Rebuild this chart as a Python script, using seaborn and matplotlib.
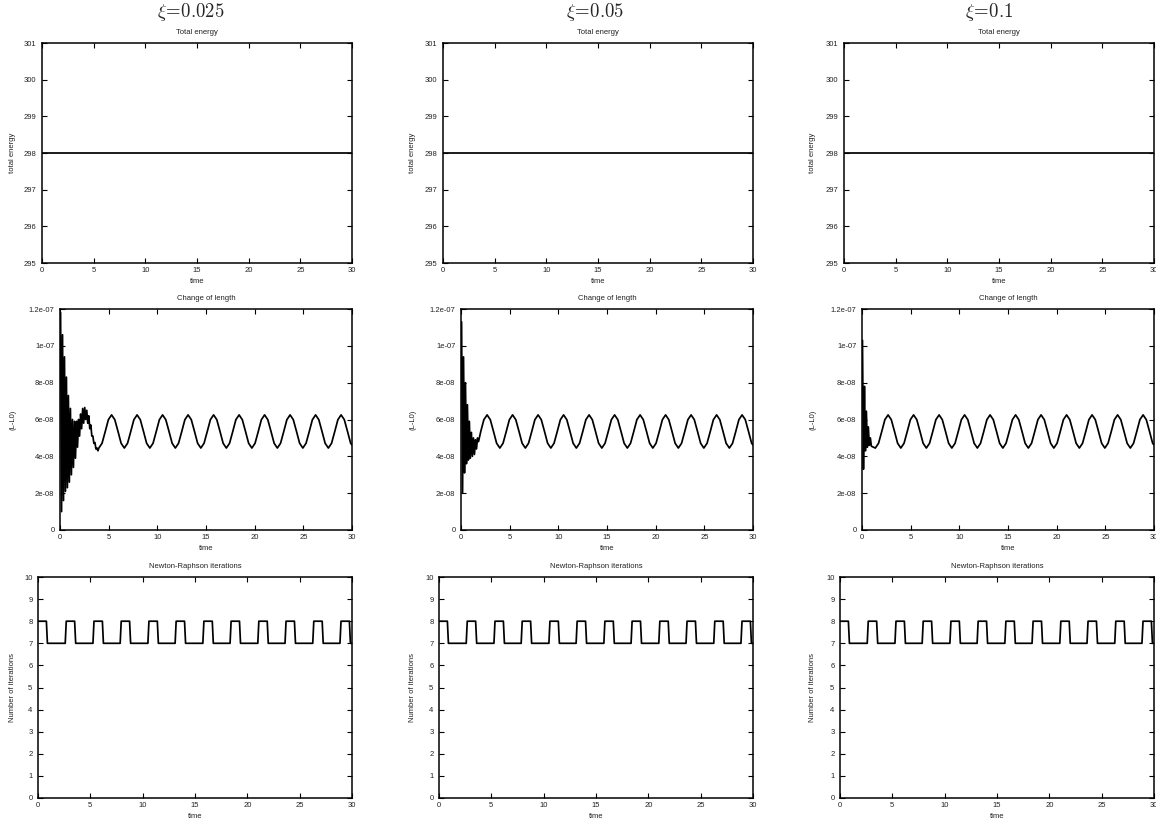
import numpy as np
import pandas as pd
import matplotlib
matplotlib.use("Agg")
import matplotlib.pyplot as plt
import seaborn as sns

# ---------------- data ----------------
xi_titles = [r"$\xi\!=\!0.025$", r"$\xi\!=\!0.05$", r"$\xi\!=\!0.1$"]

# total energy (constant)
energy_t = [0.0, 30.0]
energy_v = [298.0, 298.0]

# change of length: steady oscillation (units of 1e-8), shared by all columns
steady_t = [0.06, 0.39, 0.72, 1.04, 1.37, 1.70, 2.03, 2.35,
            2.68, 3.01, 3.34, 3.66, 3.99, 4.32, 4.65, 4.97,
            5.30, 5.63, 5.96, 6.28, 6.61, 6.94, 7.27, 7.59,
            7.92, 8.25, 8.58, 8.90, 9.23, 9.56, 9.89, 10.21,
            10.54, 10.87, 11.20, 11.52, 11.85, 12.18, 12.51, 12.83,
            13.16, 13.49, 13.82, 14.14, 14.47, 14.80, 15.13, 15.45,
            15.78, 16.11, 16.44, 16.76, 17.09, 17.42, 17.75, 18.07,
            18.40, 18.73, 19.06, 19.38, 19.71, 20.04, 20.37, 20.69,
            21.02, 21.35, 21.68, 22.00, 22.33, 22.66, 22.99, 23.31,
            23.64, 23.97, 24.30, 24.62, 24.95, 25.28, 25.61, 25.93,
            26.26, 26.59, 26.92, 27.24, 27.57, 27.90, 28.23, 28.55,
            28.88, 29.21, 29.54, 29.86, 30.00]
steady_v = [6.25, 5.99, 5.35, 4.71, 4.45, 4.71, 5.35, 5.99,
            6.25, 5.99, 5.35, 4.71, 4.45, 4.71, 5.35, 5.99,
            6.25, 5.99, 5.35, 4.71, 4.45, 4.71, 5.35, 5.99,
            6.25, 5.99, 5.35, 4.71, 4.45, 4.71, 5.35, 5.99,
            6.25, 5.99, 5.35, 4.71, 4.45, 4.71, 5.35, 5.99,
            6.25, 5.99, 5.35, 4.71, 4.45, 4.71, 5.35, 5.99,
            6.25, 5.99, 5.35, 4.71, 4.45, 4.71, 5.35, 5.99,
            6.25, 5.99, 5.35, 4.71, 4.45, 4.71, 5.35, 5.99,
            6.25, 5.99, 5.35, 4.71, 4.45, 4.71, 5.35, 5.99,
            6.25, 5.99, 5.35, 4.71, 4.45, 4.71, 5.35, 5.99,
            6.25, 5.99, 5.35, 4.71, 4.45, 4.71, 5.35, 5.99,
            6.25, 5.99, 5.35, 4.71, 4.62]

# initial transients (units of 1e-8), one per column
trans1_t = [0.06, 0.16, 0.26, 0.36, 0.46, 0.56, 0.66, 0.76, 0.86, 0.96,
            1.07, 1.17, 1.28, 1.38, 1.49, 1.59, 1.70, 1.80, 1.91, 2.01,
            2.12, 2.22, 2.33, 2.43, 2.54, 2.64, 2.75, 2.85, 2.96, 3.06,
            3.17, 3.27, 3.38, 3.48, 3.59, 3.69, 3.80, 3.90]
trans1_v = [11.8, 1.0, 10.6, 1.6, 9.4, 2.1, 8.3, 2.3, 7.3, 2.6,
            6.6, 3.0, 6.0, 3.4, 5.9, 3.9, 5.9, 4.5, 6.0, 5.1,
            6.3, 5.5, 6.6, 5.8, 6.65, 6.0, 6.5, 5.8, 6.2, 5.5,
            5.7, 5.1, 5.1, 4.7, 4.75, 4.4, 4.45, 4.3]
trans2_t = [0.06, 0.16, 0.26, 0.36, 0.46, 0.56, 0.66, 0.76, 0.86, 0.96,
            1.07, 1.17, 1.28, 1.38, 1.49, 1.59, 1.70, 1.80]
trans2_v = [11.3, 2.0, 9.4, 3.1, 8.0, 3.6, 6.8, 3.8, 5.9, 3.9,
            5.3, 4.0, 5.0, 4.1, 4.9, 4.4, 5.0, 4.8]
trans3_t = [0.05, 0.15, 0.25, 0.35, 0.45, 0.55, 0.65, 0.75, 0.86, 0.96]
trans3_v = [10.3, 3.3, 7.8, 4.3, 6.45, 4.5, 5.6, 4.6, 5.0, 4.55]
trans_t = [trans1_t, trans2_t, trans3_t]
trans_v = [trans1_v, trans2_v, trans3_v]
trans_end = [3.95, 1.85, 1.20]

# Newton-Raphson iterations
nr_t = [0.00, 0.80, 0.90, 2.60, 2.70, 3.50, 3.60, 5.25, 5.35, 6.15, 6.25, 7.85,
        7.95, 8.75, 8.85, 10.50, 10.60, 11.40, 11.50, 13.10, 13.20, 14.00, 14.10, 15.75,
        15.85, 16.65, 16.75, 18.35, 18.45, 19.25, 19.35, 21.00, 21.10, 21.90, 22.00, 23.60,
        23.70, 24.50, 24.60, 26.25, 26.35, 27.15, 27.25, 28.85, 28.95, 29.75, 29.85, 30.00]
nr_v = [8, 8, 7, 7, 8, 8, 7, 7, 8, 8, 7, 7,
        8, 8, 7, 7, 8, 8, 7, 7, 8, 8, 7, 7,
        8, 8, 7, 7, 8, 8, 7, 7, 8, 8, 7, 7,
        8, 8, 7, 7, 8, 8, 7, 7, 8, 8, 7, 7]

x_ticks = [0, 5, 10, 15, 20, 25, 30]
energy_ticks = [295, 296, 297, 298, 299, 300, 301]
len_ticks = [0, 2e-8, 4e-8, 6e-8, 8e-8, 1e-7, 1.2e-7]
len_ticklabels = ["0", "2e-08", "4e-08", "6e-08", "8e-08", "1e-07", "1.2e-07"]
nr_ticks = list(range(0, 11))

# ---------------- style ----------------
sns.set_style("ticks")
plt.rcParams["font.family"] = ["Liberation Sans", "DejaVu Sans"]
plt.rcParams["mathtext.fontset"] = "cm"
plt.rcParams["axes.linewidth"] = 1.1
plt.rcParams["axes.edgecolor"] = "black"

W, H = 1156, 823
fig = plt.figure(figsize=(W / 100, H / 100), dpi=100)
fig.patch.set_facecolor("white")

row_top = [43, 309, 577]
row_bot = [263, 530, 798]
row_left = [[42, 443, 844], [60, 461, 862], [38, 439, 840]]
col_right = [352, 753, 1154]
col_start = [0, 400, 800]
title_x = [191, 595, 989]

FS = 5.5
LW = 1.25
TXT = "#222222"


def make_ax(r, c):
    l, rr = row_left[r][c], col_right[c]
    t, b = row_top[r], row_bot[r]
    ax = fig.add_axes([l / W, 1 - b / H, (rr - l) / W, (b - t) / H])
    return ax, rr - l, b - t


def style(ax, w, h, c, title, ylabel):
    ax.set_xlim(0, 30)
    ax.set_xticks(x_ticks)
    ax.tick_params(direction="in", top=True, right=True, length=3.6, width=0.8,
                   labelsize=FS, colors="black", labelcolor=TXT, pad=3)
    ax.tick_params(axis="y", pad=4)
    for s in ax.spines.values():
        s.set_visible(True)
        s.set_color("black")
        s.set_linewidth(1.1)
    ax.set_title(title, fontsize=FS, y=1 + 11 / h, pad=0, va="center", color=TXT)
    ax.set_xlabel("time", fontsize=FS, color=TXT)
    ax.xaxis.set_label_coords(0.5, -15.0 / h)
    ax.set_ylabel(ylabel, fontsize=FS, color=TXT)
    lpx = col_start[c] + 16.5
    ax.yaxis.set_label_coords((lpx - (ax.get_position().x0 * W)) / w, 0.5)


for c in range(3):
    # column heading
    fig.text(title_x[c] / W, 1 - 12 / H, xi_titles[c], fontsize=13.5,
             ha="center", va="center")

    # row 1: total energy
    ax, w, h = make_ax(0, c)
    df_e = pd.DataFrame({"time": energy_t, "energy": energy_v})
    sns.lineplot(data=df_e, x="time", y="energy", ax=ax, color="black",
                 linewidth=LW, estimator=None, sort=False)
    ax.set_ylim(295, 301)
    ax.set_yticks(energy_ticks)
    style(ax, w, h, c, "Total energy", "total energy")

    # row 2: change of length
    ax, w, h = make_ax(1, c)
    tt = list(trans_t[c]) + [s for s in steady_t if s > trans_end[c]]
    vv = list(trans_v[c]) + [v for s, v in zip(steady_t, steady_v) if s > trans_end[c]]
    df_l = pd.DataFrame({"time": tt, "dL": np.array(vv) * 1e-8})
    sns.lineplot(data=df_l, x="time", y="dL", ax=ax, color="black",
                 linewidth=LW, estimator=None, sort=False)
    ax.set_ylim(0, 1.2e-7)
    ax.set_yticks(len_ticks)
    ax.set_yticklabels(len_ticklabels)
    style(ax, w, h, c, "Change of length", "(L-L0)")

    # row 3: Newton-Raphson iterations
    ax, w, h = make_ax(2, c)
    df_n = pd.DataFrame({"time": nr_t, "iters": nr_v})
    sns.lineplot(data=df_n, x="time", y="iters", ax=ax, color="black",
                 linewidth=LW, estimator=None, sort=False)
    ax.set_ylim(0, 10)
    ax.set_yticks(nr_ticks)
    style(ax, w, h, c, "Newton-Raphson iterations", "Number of iterations")

fig.savefig("out.png", dpi=100, facecolor="white")
